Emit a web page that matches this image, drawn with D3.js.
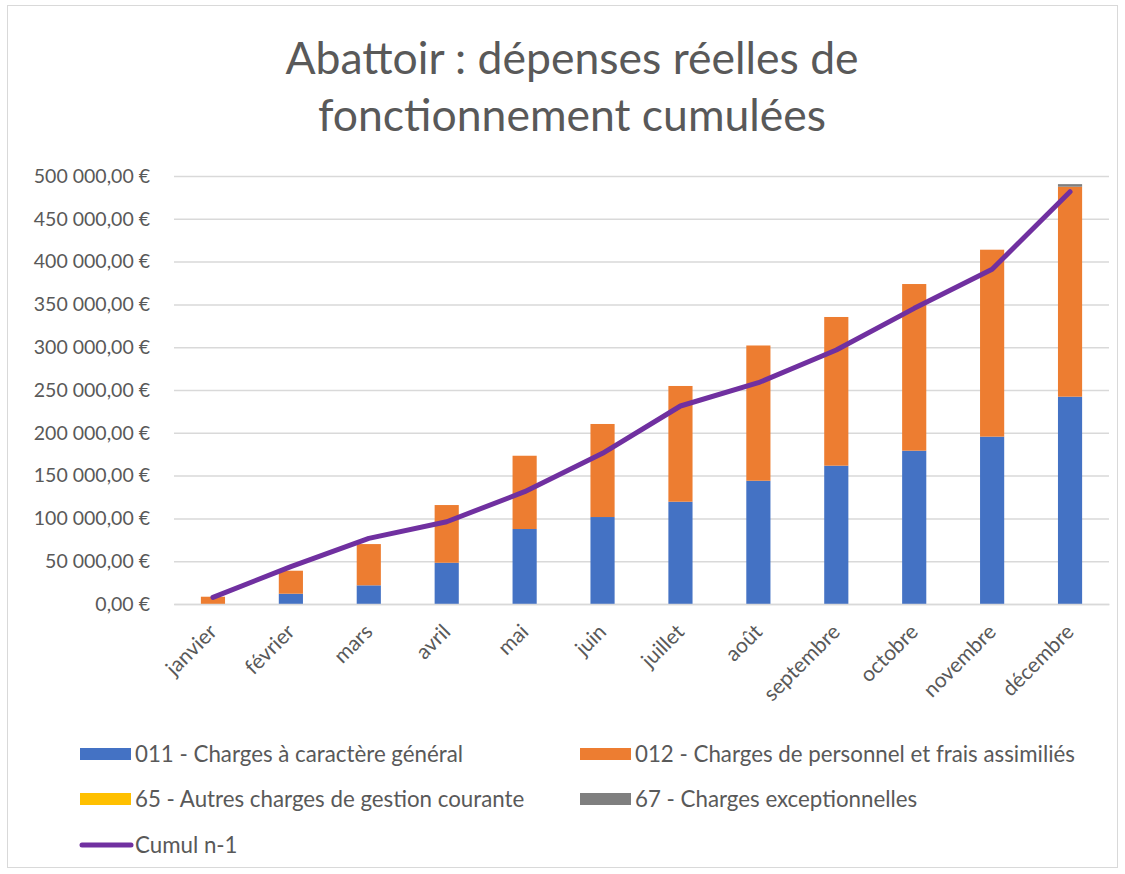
<!DOCTYPE html>
<html><head><meta charset="utf-8">
<script src="https://cdn.jsdelivr.net/npm/d3@7"></script>
<style>body{margin:0;background:#fff}svg{display:block}text{font-family:Lato,"Noto Sans",sans-serif}</style>
</head><body>
<svg id="c" width="1125" height="874"></svg>
<script>
const categories = ["janvier","février","mars","avril","mai","juin","juillet","août","septembre","octobre","novembre","décembre"];
const s011 = [0, 12000, 21800, 48200, 87600, 101600, 119500, 144000, 161600, 179100, 195500, 242200];
const s012 = [8500, 26900, 48200, 67400, 85600, 108700, 135200, 158000, 173700, 194700, 218400, 245300];
const s65  = [0,0,0,0,0,0,0,0,0,0,0,0];
const s67  = [0,0,0,0,0,0,0,0,0,0,0,3000];
const cumulN1 = [7800, 43600, 76700, 96100, 131200, 176000, 231300, 258500, 296700, 345400, 391000, 481600];
const yTicks = [0,50000,100000,150000,200000,250000,300000,350000,400000,450000,500000];
const seriesNames = ["011 - Charges à caractère général","012 - Charges de personnel et frais assimiliés","65 - Autres charges de gestion courante","67 - Charges exceptionnelles"];
const lineName = "Cumul n-1";
const colors = ["#4472c4","#ed7d31","#ffc000","#7f7f7f"];
const lineColor = "#7030a0";
const txt = "#595959";
const FF = "Lato,'Noto Sans',sans-serif";

const svg = d3.select("#c");
svg.append("rect").attr("x",7.5).attr("y",5.5).attr("width",1110).attr("height",862)
  .attr("fill","#fff").attr("stroke","#d9d9d9");

svg.append("text").attr("x",572).attr("y",74).attr("text-anchor","middle")
  .attr("font-size",44.5).attr("fill",txt).text("Abattoir : dépenses réelles de");
svg.append("text").attr("x",572).attr("y",131).attr("text-anchor","middle")
  .attr("font-size",44.5).attr("fill",txt).text("fonctionnement cumulées");

const x = d3.scaleBand().domain(categories).range([174,1109]).paddingInner(0.69).paddingOuter(0.345);
const y = d3.scaleLinear().domain([0,500000]).range([604,176]);

const fmt = v => d3.format(",.2f")(v).replace(/,/g," ").replace(".",",") + " €";

const yAxis = svg.append("g").attr("transform","translate(174,0)")
  .call(d3.axisLeft(y).tickValues(yTicks).tickSize(-935).tickFormat(fmt).tickPadding(24));
yAxis.select(".domain").remove();
yAxis.selectAll(".tick line").attr("stroke","#d9d9d9").attr("stroke-width",1.5);
yAxis.selectAll(".tick text").attr("fill",txt).attr("font-size",19.5).attr("font-family",FF);

const stackData = categories.map((c,i)=>({cat:c, a:s011[i], b:s012[i], c65:s65[i], d:s67[i]}));
const stack = d3.stack().keys(["a","b","c65","d"])(stackData);
stack.forEach((layer,k)=>{
  svg.append("g").selectAll("rect").data(layer).join("rect")
    .attr("x",d=>x(d.data.cat)).attr("width",x.bandwidth())
    .attr("y",d=>y(d[1])).attr("height",d=>Math.max(0,y(d[0])-y(d[1])))
    .attr("fill",colors[k]);
});

const xAxis = svg.append("g").attr("transform","translate(0,604)")
  .call(d3.axisBottom(x).tickSize(0).tickFormat(d=>d));
xAxis.select(".domain").attr("stroke","#d9d9d9").attr("stroke-width",1.5);
xAxis.selectAll(".tick text").attr("fill",txt).attr("font-size",21)
  .attr("font-family",FF)
  .attr("text-anchor","end").attr("dy",0)
  .attr("transform","translate(3,27) rotate(-45)");

const line = d3.line().x((d,i)=>x(categories[i])+x.bandwidth()/2).y(d=>y(d));
svg.append("path").datum(cumulN1).attr("d",line).attr("fill","none")
  .attr("stroke",lineColor).attr("stroke-width",5).attr("stroke-linejoin","round").attr("stroke-linecap","round");

const leg = svg.append("g");
const legPos = [[80,754],[580,754],[80,799],[580,799]];
seriesNames.forEach((n,i)=>{
  leg.append("rect").attr("x",legPos[i][0]).attr("y",legPos[i][1]-6).attr("width",51).attr("height",12).attr("fill",colors[i]);
  leg.append("text").attr("x",legPos[i][0]+55).attr("y",legPos[i][1]).attr("dy","0.35em")
    .attr("font-size",22.3).attr("fill",txt).text(n);
});
leg.append("line").attr("x1",82).attr("x2",131).attr("y1",845).attr("y2",845)
  .attr("stroke",lineColor).attr("stroke-width",5).attr("stroke-linecap","round");
leg.append("text").attr("x",135).attr("y",845).attr("dy","0.35em").attr("font-size",22.3).attr("fill",txt).text(lineName);
</script>
</body></html>
